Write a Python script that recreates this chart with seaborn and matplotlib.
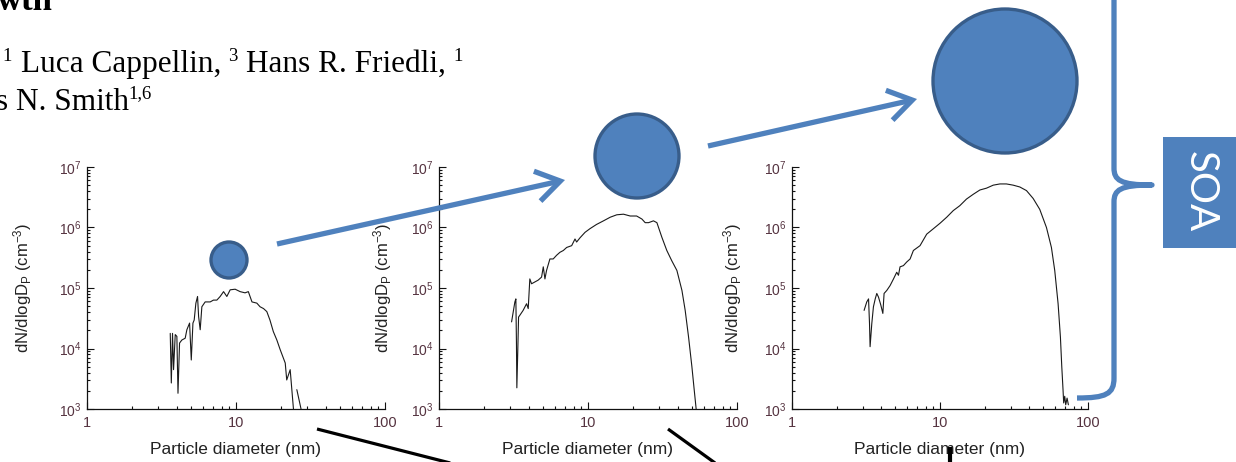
import numpy as np
import pandas as pd
import matplotlib
matplotlib.use("Agg")
import matplotlib.pyplot as plt
import seaborn as sns
from matplotlib.patches import Circle, Rectangle, FancyArrowPatch, PathPatch
from matplotlib.path import Path
from matplotlib.ticker import LogLocator, NullFormatter, FixedLocator, FixedFormatter

# ---------------- data ----------------
# Panel 1 : particle diameter (nm) and log10 of dN/dlogDp (cm^-3)
p1_d = [3.62, 3.68, 3.75, 3.81, 3.91, 4.01, 4.08, 4.18, 4.33, 4.56, 4.68, 4.88, 5.01, 5.14, 5.24,
        5.38, 5.52, 5.61, 5.75, 5.90, 6.21, 6.71, 7.06, 7.44, 7.83, 8.25, 8.68, 9.14, 9.87, 10.66,
        11.5, 12.1, 12.8, 13.8, 14.5, 15.3, 16.1, 16.9, 17.8, 18.8, 19.8, 21.4, 21.9, 23.1, 23.7, 24.3]
p1_log = [4.25, 3.43, 4.25, 3.65, 4.23, 4.20, 3.26, 4.09, 4.14, 4.17, 4.31, 4.42, 3.81, 4.42, 4.47,
          4.75, 4.86, 4.53, 4.31, 4.69, 4.77, 4.77, 4.80, 4.80, 4.86, 4.94, 4.86, 4.97, 4.98, 4.94,
          4.92, 4.94, 4.77, 4.75, 4.69, 4.66, 4.61, 4.47, 4.28, 4.14, 3.98, 3.76, 3.48, 3.65, 3.32, 3.00]
p1_tail_d = [25.6, 27.6]
p1_tail_log = [3.32, 2.95]

# Panel 2
p2_d = [3.07, 3.23, 3.28, 3.31, 3.33, 3.38, 3.42, 3.49, 3.67, 3.87, 3.97, 4.07, 4.18, 4.40, 4.63,
        4.88, 5.01, 5.14, 5.27, 5.55, 5.84, 6.15, 6.48, 6.83, 7.19, 7.77, 8.18, 8.39, 8.84, 9.55,
        10.3, 11.4, 12.7, 14.1, 15.6, 17.3, 19.2, 21.2, 23.0, 24.2, 25.5, 27.5, 29.0, 31.3, 33.8,
        36.5, 39.5, 42.7, 44.9, 47.3, 49.8, 51.6, 53.2]
p2_log = [4.44, 4.77, 4.82, 4.08, 3.35, 3.98, 4.52, 4.55, 4.63, 4.74, 4.66, 5.15, 5.07, 5.10, 5.13,
          5.18, 5.35, 5.15, 5.29, 5.48, 5.48, 5.54, 5.59, 5.62, 5.67, 5.70, 5.81, 5.76, 5.83, 5.92,
          5.98, 6.05, 6.11, 6.17, 6.21, 6.22, 6.19, 6.19, 6.14, 6.08, 6.08, 6.11, 6.08, 5.84, 5.62,
          5.45, 5.29, 4.96, 4.63, 4.19, 3.70, 3.32, 3.00]

# Panel 3
p3_d = [3.07, 3.20, 3.29, 3.34, 3.37, 3.46, 3.55, 3.65, 3.74, 3.84, 3.98, 4.11, 4.19, 4.37, 4.60,
        4.85, 5.10, 5.24, 5.37, 5.66, 5.96, 6.28, 6.61, 7.33, 8.13, 9.02, 10.0, 11.1, 12.3, 13.6,
        15.1, 16.8, 18.6, 20.6, 22.9, 25.4, 28.1, 31.2, 34.6, 38.4, 42.6, 47.2, 52.4, 56.6, 59.6,
        62.8, 65.1, 66.5, 67.8, 68.5, 69.6, 70.7, 72.2, 73.7]
p3_log = [4.63, 4.77, 4.82, 4.41, 4.03, 4.41, 4.69, 4.82, 4.91, 4.85, 4.72, 4.58, 4.91, 4.96, 5.04,
          5.15, 5.26, 5.21, 5.35, 5.37, 5.43, 5.48, 5.62, 5.70, 5.89, 5.98, 6.07, 6.17, 6.28, 6.36,
          6.47, 6.55, 6.62, 6.65, 6.70, 6.72, 6.72, 6.70, 6.67, 6.61, 6.48, 6.30, 6.00, 5.67, 5.29,
          4.74, 4.19, 3.70, 3.32, 3.10, 3.21, 3.07, 3.18, 3.07]

x_ticks = [1, 10, 100]
x_tick_labels = ["1", "10", "100"]
x_label = "Particle diameter (nm)"
y_label = r"dN/dlogD$_\mathregular{P}$ (cm$^\mathregular{-3}$)"
box_text = "SOA"

# ---------------- build table ----------------
rows = []
def add(panel, seg, ds, logs):
    for d, l in zip(ds, logs):
        rows.append(dict(panel=panel, seg=seg, d=d, n=10 ** l))
add(1, 0, p1_d, p1_log)
add(1, 1, p1_tail_d, p1_tail_log)
add(2, 0, p2_d, p2_log)
add(3, 0, p3_d, p3_log)
df = pd.DataFrame(rows)

# ---------------- style ----------------
sns.set_theme(style="ticks")
plt.rcParams["font.family"] = ["Liberation Sans", "DejaVu Sans"]
plt.rcParams["mathtext.fontset"] = "custom"
plt.rcParams["mathtext.rm"] = "Liberation Sans"
plt.rcParams["mathtext.it"] = "Liberation Sans:italic"
plt.rcParams["mathtext.bf"] = "Liberation Sans:bold"

W, H = 1236, 462
fig = plt.figure(figsize=(W / 100, H / 100), dpi=100)
fig.patch.set_facecolor("white")

tick_col = "#553340"
panels = [  # id, left, right (px), ylabel offset px
    (1, 87, 385, -53),
    (2, 439, 737, -45),
    (3, 792, 1088, -48),
]
top_px, bot_px = 167, 409

for pid, lft, rgt, ylo in panels:
    w = rgt - lft
    h = bot_px - top_px
    ax = fig.add_axes([lft / W, 1 - bot_px / H, w / W, h / H])
    ax.set_facecolor("none")
    ax.set_xscale("log")
    ax.set_yscale("log")
    sub = df[df.panel == pid]
    sns.lineplot(data=sub, x="d", y="n", units="seg", estimator=None, sort=False,
                 color="#1a1a1a", linewidth=0.8, ax=ax, legend=False)
    ax.set_xlim(1, 100)
    ax.set_ylim(1e3, 1e7)
    ax.xaxis.set_major_locator(FixedLocator(x_ticks))
    ax.xaxis.set_major_formatter(FixedFormatter(x_tick_labels))
    ax.xaxis.set_minor_locator(LogLocator(base=10, subs=np.arange(2, 10)))
    ax.xaxis.set_minor_formatter(NullFormatter())
    ax.yaxis.set_major_locator(LogLocator(base=10, numticks=10))
    ax.yaxis.set_minor_locator(LogLocator(base=10, subs=np.arange(2, 10), numticks=20))
    ax.yaxis.set_minor_formatter(NullFormatter())
    for s in ["top", "right"]:
        ax.spines[s].set_visible(False)
    for s in ["left", "bottom"]:
        ax.spines[s].set_color("#111111")
        ax.spines[s].set_linewidth(0.9)
    ax.tick_params(which="both", direction="in", color="#111111", width=0.8)
    ax.tick_params(which="major", length=5)
    ax.tick_params(which="minor", length=2.5)
    ax.tick_params(axis="x", which="major", labelsize=10.5, labelcolor=tick_col, pad=5)
    ax.tick_params(axis="y", which="major", labelsize=10, labelcolor=tick_col, pad=4)
    ax.set_xlabel(x_label, fontsize=12.5, color="#222222")
    ax.xaxis.set_label_coords(0.5, -(442 - bot_px) / h)
    ax.set_ylabel(y_label, fontsize=12, color="#222222")
    ax.yaxis.set_label_coords(ylo / w, 0.5)

# ---------------- overlay decorations (pixel coordinates) ----------------
ov = fig.add_axes([0, 0, 1, 1], zorder=10)
ov.set_xlim(0, W)
ov.set_ylim(H, 0)
ov.axis("off")
ov.patch.set_alpha(0)

fill, edge = "#4F81BD", "#385D8A"
for (cx, cy, r) in [(229, 260, 18), (637, 156, 42), (1005, 81, 72)]:
    ov.add_patch(Circle((cx, cy), r, facecolor=fill, edgecolor=edge, linewidth=2.4))

for (x0, y0, x1, y1) in [(277, 244, 565, 180), (708, 146, 917, 99)]:
    ov.add_patch(FancyArrowPatch((x0, y0), (x1, y1),
                                 arrowstyle="->,head_length=0.85,head_width=0.55",
                                 mutation_scale=20, color=fill, linewidth=3.8,
                                 shrinkA=0, shrinkB=0, capstyle="butt", joinstyle="miter"))

for (x0, y0, x1, y1, lw) in [(317, 429, 462, 466, 2.3), (668, 429, 722, 468, 2.3),
                             (950, 447, 950, 466, 3.0)]:
    ov.plot([x0, x1], [y0, y1], color="black", linewidth=lw, solid_capstyle="butt")

# brace
verts = [(1114, -5), (1114, 168), (1114, 180), (1120, 185), (1152, 185),
         (1120, 185), (1114, 190), (1114, 202), (1114, 378),
         (1114, 394), (1106, 398), (1077, 398)]
codes = [Path.MOVETO, Path.LINETO, Path.CURVE4, Path.CURVE4, Path.CURVE4,
         Path.CURVE4, Path.CURVE4, Path.CURVE4, Path.LINETO,
         Path.CURVE4, Path.CURVE4, Path.CURVE4]
ov.add_patch(PathPatch(Path(verts, codes), facecolor="none", edgecolor=fill,
                       linewidth=3.8, capstyle="butt", joinstyle="round"))

ov.add_patch(Rectangle((1163, 137), 80, 111, facecolor=fill, edgecolor="none"))
ov.text(1200, 192, box_text, color="white", fontsize=29, family=["Lato", "DejaVu Sans"],
        rotation=-90, ha="center", va="center")

# header text (serif)
serif = ["Liberation Serif", "DejaVu Serif"]
hc = "black"
ov.text(-3, 10, "wth", family=serif, fontweight="bold", fontsize=25, va="baseline", ha="left", color=hc)
ov.text(2, 61, "1", family=serif, fontsize=13.5, va="baseline", color=hc)
ov.text(21, 72, "Luca Cappellin,", family=serif, fontsize=22.5, va="baseline", color=hc)
ov.text(228, 61, "3", family=serif, fontsize=13.5, va="baseline", color=hc)
ov.text(246, 72, "Hans R. Friedli,", family=serif, fontsize=22.5, va="baseline", color=hc)
ov.text(453, 61, "1", family=serif, fontsize=13.5, va="baseline", color=hc)
ov.text(-4, 110, "s N. Smith", family=serif, fontsize=22.5, va="baseline", color=hc)
ov.text(128, 98, "1,6", family=serif, fontsize=13.5, va="baseline", color=hc)

fig.savefig("out.png", dpi=100, facecolor="white")
